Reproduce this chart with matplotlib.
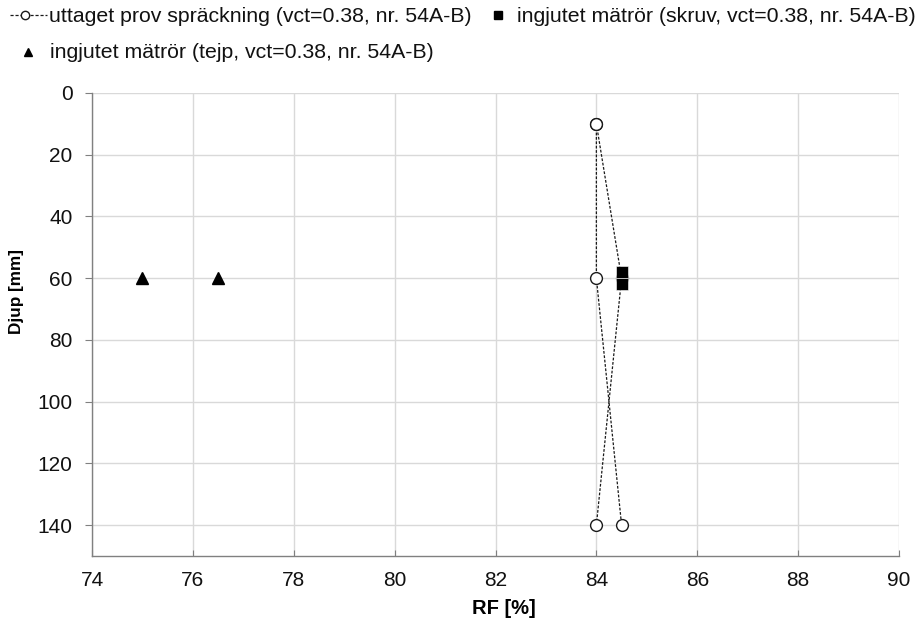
import matplotlib
matplotlib.use("Agg")
import matplotlib.pyplot as plt
from matplotlib.lines import Line2D

plt.rcParams['font.family'] = ['Liberation Sans', 'DejaVu Sans']

# uttaget prov spräckning (two depth profiles sharing the top point)
prov_a_rf = [84.0, 84.0, 84.5]
prov_a_depth = [10, 60, 140]
prov_b_rf = [84.0, 84.5, 84.0]
prov_b_depth = [10, 60, 140]

# ingjutet mätrör (skruv)
skruv_rf = [84.5, 84.5]
skruv_depth = [58, 62]

# ingjutet mätrör (tejp)
tejp_rf = [75.0, 76.5]
tejp_depth = [60, 60]

xticks = list(range(74, 91, 2))
yticks = list(range(0, 141, 20))

labels = ["uttaget prov spräckning (vct=0.38, nr. 54A-B)",
          "ingjutet mätrör (skruv, vct=0.38, nr. 54A-B)",
          "ingjutet mätrör (tejp, vct=0.38, nr. 54A-B)"]

W, H = 922, 624
fig = plt.figure(figsize=(W / 100, H / 100), dpi=100)
ax = fig.add_axes([92 / W, 1 - 556 / H, 807 / W, 463 / H])

dash = (0, (2.2, 1.3))
ax.plot(prov_a_rf, prov_a_depth, linestyle=dash, color='#1a1a1a', lw=0.9,
        marker='o', markersize=8.5, markerfacecolor='white', markeredgecolor='#1a1a1a',
        markeredgewidth=1.0, zorder=3)
ax.plot(prov_b_rf, prov_b_depth, linestyle=dash, color='#1a1a1a', lw=0.9,
        marker='o', markersize=8.5, markerfacecolor='white', markeredgecolor='#1a1a1a',
        markeredgewidth=1.0, zorder=3)
ax.plot(skruv_rf, skruv_depth, linestyle='none', marker='s', markersize=8,
        color='black', markeredgecolor='white', markeredgewidth=0.4, zorder=4)
ax.plot(tejp_rf, tejp_depth, linestyle='none', marker='^', markersize=9,
        color='black', zorder=4)

ax.set_xlim(74, 90)
ax.set_ylim(150, 0)
ax.set_xticks(xticks)
ax.set_yticks(yticks)
ax.tick_params(axis='x', labelsize=15, length=4.5, direction='in', pad=10.5,
               color='#808080', labelcolor='#111111')
ax.tick_params(axis='y', labelsize=15, length=5, direction='out', pad=9,
               color='#808080', labelcolor='#111111')
ax.grid(True, color='#d9d9d9', lw=1.0)
ax.set_axisbelow(True)
for s in ['top', 'right']:
    ax.spines[s].set_visible(False)
for s in ['left', 'bottom']:
    ax.spines[s].set_color('#808080')
    ax.spines[s].set_linewidth(1.0)

ax.set_xlabel("RF [%]", fontsize=14.5, fontweight='bold', va='center')
ax.xaxis.set_label_coords((503.5 - 92) / 807, (556 - 609) / 463)
ax.set_ylabel("Djup [mm]", fontsize=12.3, fontweight='bold', va='center')
ax.yaxis.set_label_coords((16 - 92) / 807, (556 - 292) / 463)

def fx(px):
    return px / W

def fy(py):
    return 1 - py / H

# legend, drawn by hand to match the reference layout
fig.add_artist(Line2D([fx(10), fx(47)], [fy(15), fy(15)], linestyle=(0, (2.5, 1.5)),
                      color='#1a1a1a', lw=0.9, transform=fig.transFigure))
fig.add_artist(Line2D([fx(25)], [fy(15)], linestyle='none', marker='o', markersize=6,
                      markerfacecolor='white', markeredgecolor='#1a1a1a',
                      transform=fig.transFigure))
fig.text(fx(49), fy(16), labels[0], fontsize=15.3, va='center', ha='left', color='#111111')
fig.add_artist(Line2D([fx(498)], [fy(15)], linestyle='none', marker='s', markersize=5.5,
                      color='black', transform=fig.transFigure))
fig.text(fx(517), fy(16), labels[1], fontsize=15.3, va='center', ha='left', color='#111111')
fig.add_artist(Line2D([fx(28)], [fy(52)], linestyle='none', marker='^', markersize=6,
                      color='black', transform=fig.transFigure))
fig.text(fx(50), fy(53), labels[2], fontsize=15.3, va='center', ha='left', color='#111111')

fig.savefig("out.png", dpi=100)
